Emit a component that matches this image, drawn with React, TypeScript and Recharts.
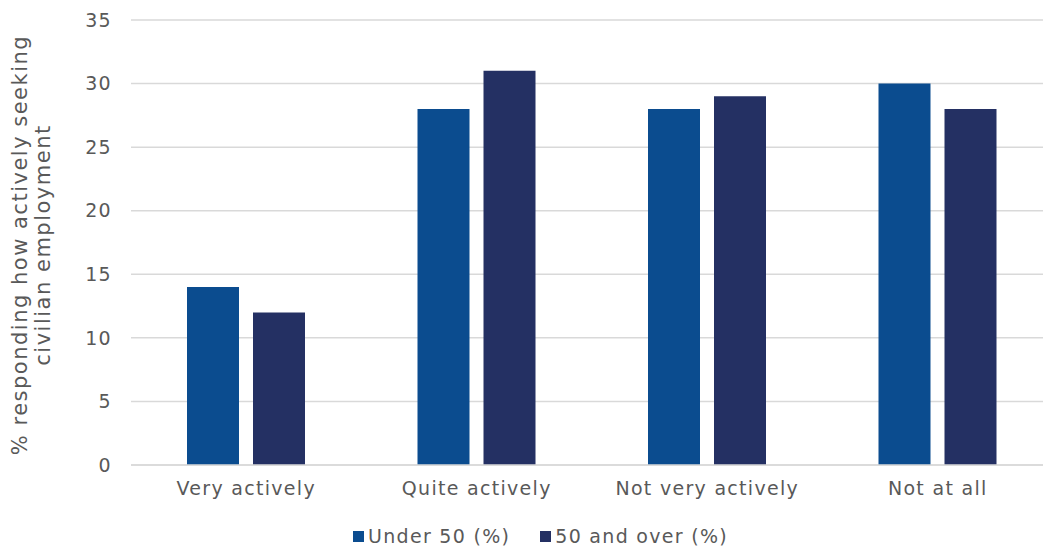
import React from 'react';
import { BarChart, Bar, XAxis, YAxis, CartesianGrid } from 'recharts';

const categories = ['Very actively', 'Quite actively', 'Not very actively', 'Not at all'];
const under50 = [14, 28, 28, 30];
const over50 = [12, 31, 29, 28];
const yTicks = [0, 5, 10, 15, 20, 25, 30, 35];

const SERIES = [
  { key: 'under50', name: 'Under 50 (%)', color: '#0B4C8F' },
  { key: 'over50', name: '50 and over (%)', color: '#243063' },
];

const FONT = '"DejaVu Sans", sans-serif';
const TEXT = '#595959';
const SPACING = 1.3;

const data = categories.map((c, i) => ({ name: c, under50: under50[i], over50: over50[i] }));

const YLabel = () => (
  <text
    transform="translate(27, 245) rotate(-90)"
    textAnchor="middle"
    fill={TEXT}
    fontSize={21}
    fontFamily={FONT}
    letterSpacing={1.5}
  >
    <tspan x={0} dy={0}>% responding how actively seeking</tspan>
    <tspan x={0} dy={23}>civilian employment</tspan>
  </text>
);

export default function App() {
  return (
    <div style={{ position: 'absolute', left: 0, top: 0, width: 1043, height: 546, overflow: 'hidden', background: '#fff' }}>
      <BarChart
        width={1053}
        height={546}
        data={data}
        margin={{ top: 20, right: 0, left: 0, bottom: 51 }}
        barGap={14}
        barSize={52}
      >
        <CartesianGrid vertical={false} stroke="#d9d9d9" strokeWidth={1.5} />
        <XAxis
          dataKey="name"
          height={30}
          axisLine={{ stroke: '#d9d9d9', strokeWidth: 1.5 }}
          tickLine={false}
          tickSize={0}
          tickMargin={17}
          tick={{ fill: TEXT, fontSize: 19, fontFamily: FONT, letterSpacing: SPACING }}
          interval={0}
        />
        <YAxis
          width={131}
          domain={[0, 35]}
          ticks={yTicks}
          axisLine={false}
          tickLine={false}
          tickSize={0}
          tickMargin={19}
          tick={{ fill: TEXT, fontSize: 19, fontFamily: FONT, letterSpacing: SPACING }}
          label={{ content: () => <YLabel /> }}
        />
        {SERIES.map(s => (
          <Bar key={s.key} dataKey={s.key} name={s.name} fill={s.color} isAnimationActive={false} />
        ))}
      </BarChart>
      <div
        style={{
          position: 'absolute', left: 353, top: 524, display: 'flex', gap: 30,
          fontFamily: FONT, fontSize: 19, letterSpacing: SPACING, color: TEXT, lineHeight: '24px',
        }}
      >
        {SERIES.map(s => (
          <div key={s.key} style={{ display: 'flex', alignItems: 'center' }}>
            <span style={{ width: 11, height: 11, background: s.color, marginRight: 4, display: 'inline-block' }} />
            <span>{s.name}</span>
          </div>
        ))}
      </div>
    </div>
  );
}
